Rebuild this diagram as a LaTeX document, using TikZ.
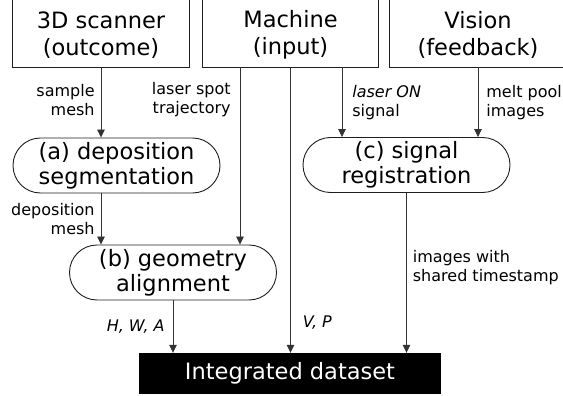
\documentclass[tikz,border=0pt]{standalone}
\usepackage{fontspec}
\setmainfont{DejaVu Sans}
\usepackage{tikz}
\usetikzlibrary{arrows.meta,positioning,calc}
\definecolor{ink}{HTML}{1E1E1E}
\definecolor{wire}{HTML}{333333}

\begin{document}
\begin{tikzpicture}[
  x=1pt,y=1pt,
  every node/.style={align=center},
  srcbox/.style={minimum width=176pt,minimum height=64pt,inner sep=0pt,font=\fontsize{22.5}{27.5}\selectfont},
  frame/.style={draw=ink,line width=0.9pt},
  proc/.style={draw=ink,line width=0.9pt,rounded corners=27.5pt,minimum width=207pt,minimum height=55pt,inner sep=0pt,font=\fontsize{22.5}{25}\selectfont},
  sink/.style={fill=black,text=white,minimum width=302pt,minimum height=41pt,inner sep=0pt,font=\fontsize{22.5}{26}\selectfont},
  lbl/.style={text=black,font=\fontsize{16}{19}\selectfont,inner sep=0pt},
  arr/.style={-{Triangle[length=8pt,width=7.5pt]},line width=0.8pt,color=wire}
]
\useasboundingbox (0,0) rectangle (563,-396);
\node[srcbox] (scanner) at (101,-35) {3D scanner\\(outcome)};
\node[srcbox] (machine) at (290.5,-35) {Machine\\(input)};
\node[srcbox] (vision) at (478,-35) {Vision\\(feedback)};
\foreach \n in {scanner,machine,vision}
  \draw[frame] ([yshift=12pt]\n.north west) |- (\n.south east) -- ([yshift=12pt]\n.north east);
\node[proc] (seg) at (116.5,-165.5) {(a) deposition\\segmentation};
\node[proc] (geom) at (173,-272.5) {(b) geometry\\alignment};
\node[proc] (sig) at (406.5,-165) {(c) signal\\registration};
\node[sink] (data) at (290,-373.5) {Integrated dataset};
\draw[arr] (scanner) -- node[lbl,pos=0.46,left=6pt,align=right]{sample\\mesh} (scanner |- seg.north);
\draw[arr] ([xshift=-50.5pt]machine.south) coordinate (mtraj) -- node[lbl,pos=0.18,left=9pt,align=right]{laser spot\\trajectory} (mtraj |- geom.north);
\draw[arr] (machine.south) -- node[lbl,pos=0.895,right=12pt]{\textit{V, P}} (machine.south |- data.north);
\draw[arr] ([xshift=51.5pt]machine.south) coordinate (mon) -- node[lbl,midway,right=10pt,align=left]{\textit{laser ON}\\signal} (mon |- sig.north);
\draw[arr] (vision) -- node[lbl,midway,right=8pt,align=left]{melt pool\\images} (vision |- sig.north);
\draw[arr] (seg.south -| scanner) -- node[lbl,midway,left=6pt,align=right]{deposition\\mesh} (scanner |- geom.north);
\draw[arr] (geom) -- node[lbl,midway,left=8pt]{\textit{H, W, A}} (geom |- data.north);
\draw[arr] (sig) -- node[lbl,pos=0.47,right=6pt,align=left]{images with\\shared timestamp} (sig |- data.north);
\end{tikzpicture}
\end{document}
